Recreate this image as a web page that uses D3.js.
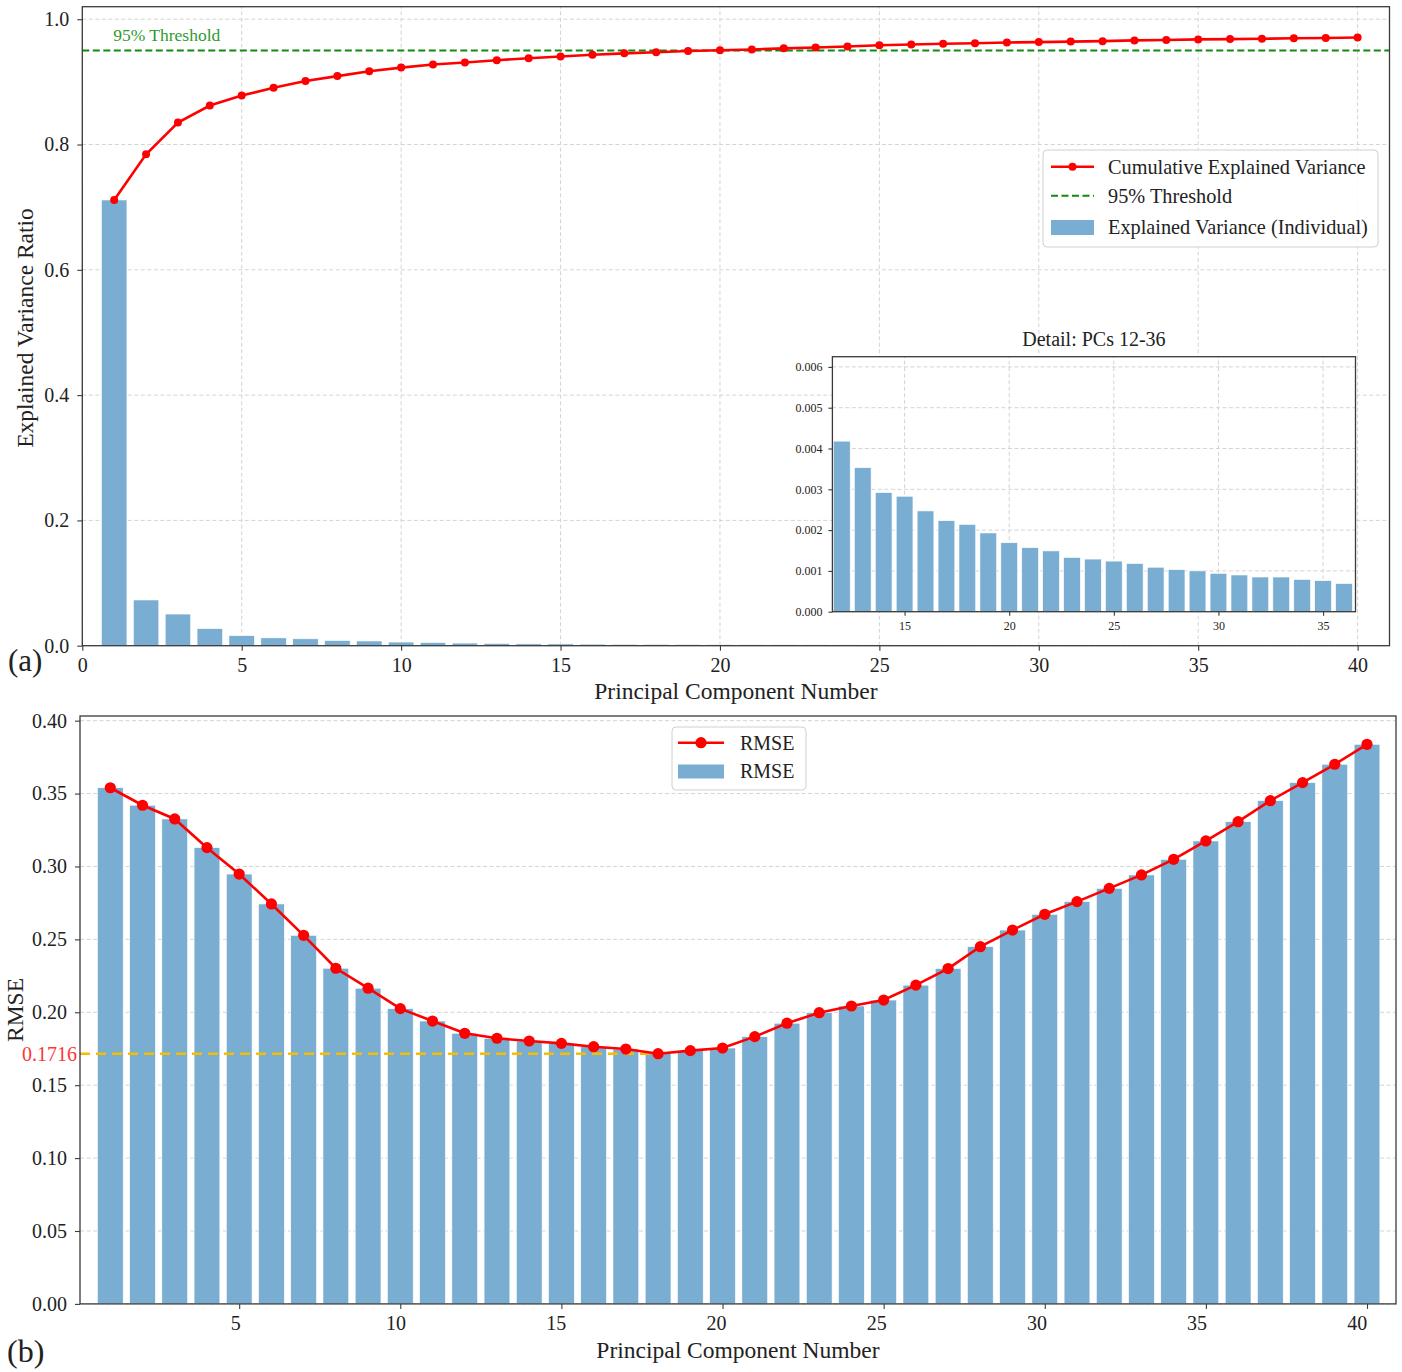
<!DOCTYPE html>
<html>
<head>
<meta charset="utf-8">
<script src="https://cdn.jsdelivr.net/npm/d3@7"></script>
<style>
  body { margin: 0; background: #fff; }
  svg text { font-family: "Liberation Serif", "Times New Roman", serif; fill: #222; }
</style>
</head>
<body>
<svg id="chart" width="1402" height="1372"></svg>
<script>
// principal components 1..40
const components = [1, 2, 3, 4, 5, 6, 7, 8, 9, 10, 11, 12, 13, 14, 15, 16, 17, 18, 19, 20,
  21, 22, 23, 24, 25, 26, 27, 28, 29, 30, 31, 32, 33, 34, 35, 36, 37, 38, 39, 40];

// individual explained variance ratio per component
const explained = [0.7115, 0.0730, 0.0505, 0.0272, 0.0160, 0.0125, 0.0110, 0.0082, 0.0075, 0.0058,
  0.0050, 0.00418, 0.00353, 0.00292, 0.00283, 0.00247, 0.00223, 0.00214, 0.00193, 0.00169,
  0.00157, 0.00149, 0.00133, 0.00129, 0.00124, 0.00118, 0.00109, 0.00103, 0.00100, 0.00094,
  0.00090, 0.00085, 0.00085, 0.00079, 0.00076, 0.00069, 0.00066, 0.00063, 0.00060, 0.00058];

// cumulative explained variance
const cumulative = [0.7115, 0.7845, 0.8350, 0.8622, 0.8782, 0.8905, 0.9015, 0.9092, 0.9170, 0.9228,
  0.9277, 0.9310, 0.9345, 0.9378, 0.9405, 0.9432, 0.9455, 0.9474, 0.9492, 0.9505,
  0.9518, 0.9535, 0.9548, 0.9565, 0.9585, 0.9597, 0.9608, 0.9617, 0.9628, 0.9635,
  0.9643, 0.9650, 0.9662, 0.9668, 0.9678, 0.9683, 0.9688, 0.9697, 0.9701, 0.9708];

// reconstruction RMSE per number of components
const rmse = [0.3540, 0.3420, 0.3326, 0.3129, 0.2948, 0.2743, 0.2528, 0.2302, 0.2165, 0.2025,
  0.1940, 0.1856, 0.1822, 0.1803, 0.1787, 0.1764, 0.1748, 0.1716, 0.1737, 0.1755,
  0.1833, 0.1925, 0.1997, 0.2043, 0.2084, 0.2186, 0.2300, 0.2450, 0.2564, 0.2672,
  0.2759, 0.2850, 0.2942, 0.3049, 0.3175, 0.3307, 0.3451, 0.3575, 0.3701, 0.3838];

const threshold = 0.95;
const bestPc = 18;
const bestRmse = 0.1716;
const insetFrom = 12, insetTo = 36;

const ticksAx = [0, 5, 10, 15, 20, 25, 30, 35, 40];
const ticksAy = [0, 0.2, 0.4, 0.6, 0.8, 1.0];
const ticksInsetX = [15, 20, 25, 30, 35];
const ticksInsetY = [0, 0.001, 0.002, 0.003, 0.004, 0.005, 0.006];
const ticksBx = [5, 10, 15, 20, 25, 30, 35, 40];
const ticksBy = [0, 0.05, 0.10, 0.15, 0.20, 0.25, 0.30, 0.35, 0.40];

const barColor = "rgb(121,173,210)";
const gridColor = "#d4d4d4";
const spineColor = "#3a3a3a";
const font = '"Liberation Serif", "Times New Roman", serif';

const svg = d3.select("#chart");

function grid(g, x, y, xt, yt) {
  const [y0, y1] = y.range(), [x0, x1] = x.range();
  if (xt) g.append("g").selectAll("line").data(xt).join("line")
    .attr("x1", d => x(d)).attr("x2", d => x(d)).attr("y1", y0).attr("y2", y1)
    .attr("stroke", gridColor).attr("stroke-width", 1).attr("stroke-dasharray", "4,2.5");
  if (yt) g.append("g").selectAll("line").data(yt).join("line")
    .attr("x1", x0).attr("x2", x1).attr("y1", d => y(d)).attr("y2", d => y(d))
    .attr("stroke", gridColor).attr("stroke-width", 1).attr("stroke-dasharray", "4,2.5");
}

function spines(g, x, y) {
  const [x0, x1] = x.range(), [y0, y1] = y.range();
  g.append("rect").attr("x", x0).attr("y", y1).attr("width", x1 - x0).attr("height", y0 - y1)
    .attr("fill", "none").attr("stroke", spineColor).attr("stroke-width", 1.3);
}

function axes(g, x, y, xt, yt, xf, yf, size, tick, padX, padY) {
  const ax = g.append("g").attr("transform", `translate(0,${y.range()[0]})`)
    .call(d3.axisBottom(x).tickValues(xt).tickFormat(xf).tickSize(tick).tickPadding(padX));
  const ay = g.append("g").attr("transform", `translate(${x.range()[0]},0)`)
    .call(d3.axisLeft(y).tickValues(yt).tickFormat(yf).tickSize(tick).tickPadding(padY));
  [ax, ay].forEach(a => {
    a.select(".domain").remove();
    a.attr("font-family", font).attr("font-size", size);
    a.selectAll("line").attr("stroke", spineColor).attr("stroke-width", 1.1);
    a.selectAll("text").attr("fill", "#222");
  });
  return ax;
}

function bars(g, x, y, xs, vs, w) {
  g.append("g").selectAll("rect").data(xs.map((c, i) => [c, vs[i]])).join("rect")
    .attr("x", d => x(d[0] - w / 2))
    .attr("width", x(w) - x(0))
    .attr("y", d => y(d[1]))
    .attr("height", d => y(0) - y(d[1]))
    .attr("fill", barColor)
    .attr("stroke", "#fff").attr("stroke-width", 0.6);
}

// ---------------- panel (a) ----------------
const gA = svg.append("g");
const xA = d3.scaleLinear().domain([0, 41]).range([82.3, 1389.5]);
const yA = d3.scaleLinear().domain([0, 1.02]).range([645.7, 6.7]);

grid(gA, xA, yA, ticksAx, ticksAy);
bars(gA, xA, yA, components, explained, 0.8);

gA.append("line")
  .attr("x1", xA(0)).attr("x2", xA(41)).attr("y1", yA(threshold)).attr("y2", yA(threshold))
  .attr("stroke", "#128a12").attr("stroke-width", 2).attr("stroke-dasharray", "7,3.5");
gA.append("text").attr("x", xA(1) - 1).attr("y", yA(0.965))
  .attr("font-size", 17.5).style("fill", "#2f9a2f").text("95% Threshold");

const lineA = d3.line().x((d, i) => xA(components[i])).y(d => yA(d));
gA.append("path").datum(cumulative).attr("d", lineA)
  .attr("fill", "none").attr("stroke", "#ff0000").attr("stroke-width", 2.6);
gA.append("g").selectAll("circle").data(cumulative).join("circle")
  .attr("cx", (d, i) => xA(components[i])).attr("cy", d => yA(d)).attr("r", 4)
  .attr("fill", "#ff0000");

spines(gA, xA, yA);
axes(gA, xA, yA, ticksAx, ticksAy, d3.format("d"), d3.format(".1f"), 20, 5, 7, 8);

gA.append("text").attr("transform", "translate(33,328) rotate(-90)")
  .attr("text-anchor", "middle").attr("font-size", 23.5).text("Explained Variance Ratio");
gA.append("text").attr("x", (xA.range()[0] + xA.range()[1]) / 2).attr("y", 699)
  .attr("text-anchor", "middle").attr("font-size", 23.5).text("Principal Component Number");
gA.append("text").attr("x", 8).attr("y", 671).attr("font-size", 31).text("(a)");

// legend (a)
const legA = gA.append("g");
legA.append("rect").attr("x", 1043).attr("y", 150).attr("width", 335).attr("height", 97)
  .attr("rx", 4).attr("fill", "#fff").attr("fill-opacity", 0.85).attr("stroke", "#d0d0d0");
legA.append("line").attr("x1", 1051).attr("x2", 1094).attr("y1", 166.7).attr("y2", 166.7)
  .attr("stroke", "#ff0000").attr("stroke-width", 2.6);
legA.append("circle").attr("cx", 1072.5).attr("cy", 166.7).attr("r", 4).attr("fill", "#ff0000");
legA.append("line").attr("x1", 1051).attr("x2", 1094).attr("y1", 195.7).attr("y2", 195.7)
  .attr("stroke", "#128a12").attr("stroke-width", 2).attr("stroke-dasharray", "7,3.5");
legA.append("rect").attr("x", 1051).attr("y", 220).attr("width", 43).attr("height", 15)
  .attr("fill", barColor);
legA.selectAll("text.l").data([
  ["Cumulative Explained Variance", 166.7],
  ["95% Threshold", 195.7],
  ["Explained Variance (Individual)", 227.5]
]).join("text").attr("x", 1108).attr("y", d => d[1]).attr("dy", "0.34em")
  .attr("font-size", 20.3).text(d => d[0]);

// ---------------- inset ----------------
const gI = svg.append("g");
const xI = d3.scaleLinear().domain([11.55, 36.55]).range([832.4, 1355.5]);
const yI = d3.scaleLinear().domain([0, 0.00625]).range([611.7, 356.7]);
gI.append("rect").attr("x", xI.range()[0]).attr("y", yI.range()[1])
  .attr("width", xI.range()[1] - xI.range()[0]).attr("height", yI.range()[0] - yI.range()[1])
  .attr("fill", "#fff");
grid(gI, xI, yI, ticksInsetX, ticksInsetY);
const insetPcs = components.filter(c => c >= insetFrom && c <= insetTo);
const insetVals = insetPcs.map(c => explained[c - 1]);
bars(gI, xI, yI, insetPcs, insetVals, 0.8);
spines(gI, xI, yI);
axes(gI, xI, yI, ticksInsetX, ticksInsetY, d3.format("d"), d3.format(".3f"), 12, 4, 6, 6);
gI.append("text").attr("x", (xI.range()[0] + xI.range()[1]) / 2).attr("y", 346)
  .attr("text-anchor", "middle").attr("font-size", 20).text(`Detail: PCs ${insetFrom}-${insetTo}`);

// ---------------- panel (b) ----------------
const gB = svg.append("g");
const xB = d3.scaleLinear().domain([0.06, 40.9]).range([80, 1396]);
const yB = d3.scaleLinear().domain([0, 0.4032]).range([1303.9, 716]);

grid(gB, xB, yB, null, ticksBy);
bars(gB, xB, yB, components, rmse, 0.8);

gB.append("line")
  .attr("x1", xB.range()[0]).attr("x2", xB(bestPc)).attr("y1", yB(bestRmse)).attr("y2", yB(bestRmse))
  .attr("stroke", "#f7bd00").attr("stroke-width", 2.5).attr("stroke-dasharray", "10,6");

const lineB = d3.line().x((d, i) => xB(components[i])).y(d => yB(d));
gB.append("path").datum(rmse).attr("d", lineB)
  .attr("fill", "none").attr("stroke", "#ff0000").attr("stroke-width", 2.6);
gB.append("g").selectAll("circle").data(rmse).join("circle")
  .attr("cx", (d, i) => xB(components[i])).attr("cy", d => yB(d)).attr("r", 5.6)
  .attr("fill", "#ff0000");

spines(gB, xB, yB);
const axB = axes(gB, xB, yB, ticksBx, ticksBy, d3.format("d"), d3.format(".2f"), 20, 5, 7, 8);
// labels in the original sit a little left of their tick marks
axB.selectAll("text").attr("dx", d => -3 - d * 0.18);

gB.append("text").attr("x", 77).attr("y", yB(bestRmse)).attr("dy", "0.35em")
  .attr("text-anchor", "end").attr("font-size", 20).style("fill", "#ff3535")
  .text(bestRmse.toFixed(4));

gB.append("text").attr("transform", "translate(23,1010) rotate(-90)")
  .attr("text-anchor", "middle").attr("font-size", 23.5).text("RMSE");
gB.append("text").attr("x", (xB.range()[0] + xB.range()[1]) / 2).attr("y", 1358)
  .attr("text-anchor", "middle").attr("font-size", 23.5).text("Principal Component Number");
gB.append("text").attr("x", 7).attr("y", 1362).attr("font-size", 32).text("(b)");

// legend (b)
const legB = gB.append("g");
legB.append("rect").attr("x", 672).attr("y", 727).attr("width", 134).attr("height", 63)
  .attr("rx", 4).attr("fill", "#fff").attr("fill-opacity", 0.85).attr("stroke", "#d0d0d0");
legB.append("line").attr("x1", 678).attr("x2", 724).attr("y1", 742.7).attr("y2", 742.7)
  .attr("stroke", "#ff0000").attr("stroke-width", 2.6);
legB.append("circle").attr("cx", 701).attr("cy", 742.7).attr("r", 5.6).attr("fill", "#ff0000");
legB.append("rect").attr("x", 678).attr("y", 764.5).attr("width", 46).attr("height", 14)
  .attr("fill", barColor);
legB.selectAll("text.l").data([["RMSE", 742.7], ["RMSE", 771.5]]).join("text")
  .attr("x", 740).attr("y", d => d[1]).attr("dy", "0.34em")
  .attr("font-size", 20).text(d => d[0]);
</script>
</body>
</html>
